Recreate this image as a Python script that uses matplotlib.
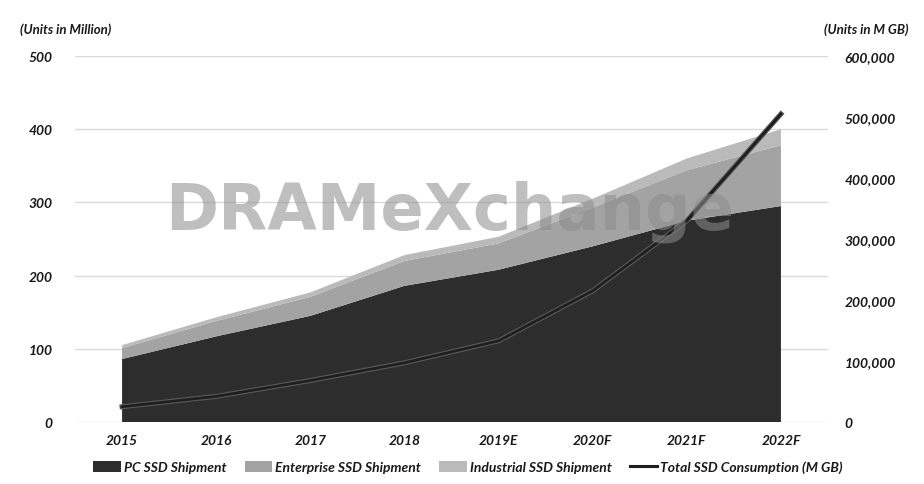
import matplotlib
matplotlib.use("Agg")
import matplotlib.pyplot as plt
import matplotlib.patheffects as pe
from matplotlib.patches import Patch
from matplotlib.lines import Line2D
import numpy as np

plt.rcParams['font.family'] = ['Lato', 'DejaVu Sans']

years = ["2015", "2016", "2017", "2018", "2019E", "2020F", "2021F", "2022F"]
pc_ssd = [86, 117, 145, 186, 208, 240, 275, 295]
enterprise_ssd = [15, 21, 26, 34, 36, 53, 69, 83]
industrial_ssd = [4, 5, 6, 8, 9, 12, 16, 22]
total_consumption = [25000, 42000, 68000, 97000, 133000, 215000, 330000, 505000]

left_ticks = [0, 100, 200, 300, 400, 500]
right_ticks = [0, 100000, 200000, 300000, 400000, 500000, 600000]

c_pc = '#2d2d2d'
c_ent = '#a3a3a3'
c_ind = '#bababa'
txt = '#1a1a1a'
fstyle = dict(fontweight='bold', fontstyle='italic', color=txt)

fig = plt.figure(figsize=(9.24, 4.85), dpi=100)
ax = fig.add_axes([75/924, 1-423/485, (828-75)/924, (423-57)/485])
x = np.arange(len(years))

ax.stackplot(x, pc_ssd, enterprise_ssd, industrial_ssd,
             colors=[c_pc, c_ent, c_ind], linewidth=0, zorder=2)
ax.set_xlim(-0.5, len(years) - 0.5)
ax.set_ylim(0, 500)
ax.set_yticks(left_ticks)
ax.set_yticklabels([str(t) for t in left_ticks], **fstyle, fontsize=10)
ax.set_xticks(x)
ax.set_xticklabels(years, **fstyle, fontsize=10)
ax.tick_params(axis='both', length=0)
ax.tick_params(axis='y', pad=16)
ax.tick_params(axis='x', pad=9)
ax.grid(axis='y', color='#d9d9d9', linewidth=1, zorder=0)
ax.set_axisbelow(True)
for s in ax.spines.values():
    s.set_visible(False)

ax2 = ax.twinx()
ax2.set_ylim(0, 600000)
ax2.set_yticks(right_ticks)
ax2.set_yticklabels([f"{t:,}" for t in right_ticks], **fstyle, fontsize=10)
ax2.tick_params(axis='y', length=0, pad=12)
for s in ax2.spines.values():
    s.set_visible(False)
ax2.plot(x, total_consumption, color='#1e1e1e', linewidth=2, zorder=5,
         path_effects=[pe.Stroke(linewidth=3.6, foreground='#5a5a5a'), pe.Normal()])

# watermark
fig.text(450/924, 1-212/485, "DRAMeXchange", fontsize=46, fontweight='bold',
         color='#8c8c8c', alpha=0.55, ha='center', va='center',
         family=['DejaVu Sans'], zorder=10)

fig.text(20/924, 1-30/485, "(Units in Million)", fontsize=9.5, **fstyle, va='center')
fig.text(824/924, 1-30/485, "(Units in M GB)", fontsize=9.5, **fstyle, va='center')

handles = [Patch(facecolor=c_pc), Patch(facecolor=c_ent), Patch(facecolor=c_ind),
           Line2D([0], [0], color='#1e1e1e', linewidth=2.2)]
labels = ["PC SSD Shipment", "Enterprise SSD Shipment", "Industrial SSD Shipment",
          "Total SSD Consumption (M GB)"]
leg = fig.legend(handles, labels, loc='center', bbox_to_anchor=(468/924, 1-468/485),
                 ncol=4, frameon=False, handlelength=2.0, handleheight=0.8,
                 handletextpad=0.2, columnspacing=1.3,
                 prop=dict(weight='bold', style='italic', size=10))
for t in leg.get_texts():
    t.set_color(txt)

fig.savefig("out.png", dpi=100)
